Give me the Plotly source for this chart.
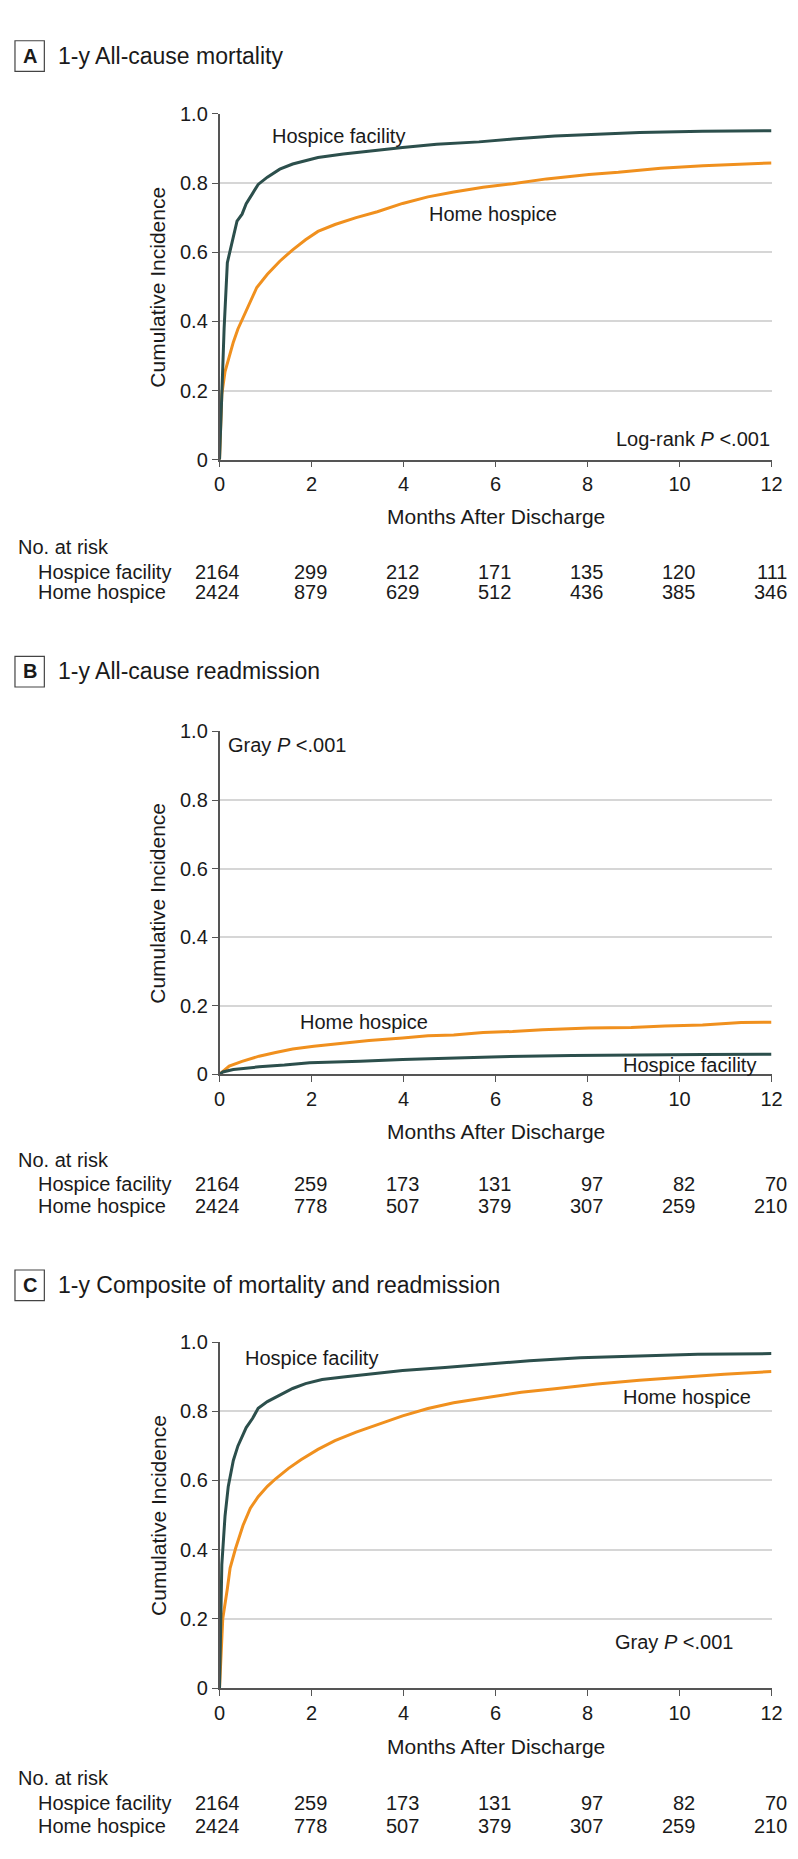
import plotly.graph_objects as go

W, H = 798, 1859

# ---------------- data ----------------
month_ticks = [0, 2, 4, 6, 8, 10, 12]
y_tickvals = [0, 0.2, 0.4, 0.6, 0.8, 1.0]
y_ticktext = ["0", "0.2", "0.4", "0.6", "0.8", "1.0"]

panel_letters = ["A", "B", "C"]
panel_titles = ["1-y All-cause mortality",
                "1-y All-cause readmission",
                "1-y Composite of mortality and readmission"]
group_names = ["Hospice facility", "Home hospice"]

# Panel A: all-cause mortality
a_fac_t = [0, 0.03, 0.07, 0.1, 0.17, 0.3, 0.38, 0.49, 0.58, 0.72, 0.84, 1.04, 1.31, 1.59,
           1.87, 2.14, 2.69, 3.25, 3.98, 4.72, 5.64, 6.37, 7.29, 8.21, 9.13, 10.5, 12]
a_fac_v = [0, 0.12, 0.25, 0.38, 0.57, 0.645, 0.69, 0.71, 0.74, 0.77, 0.796, 0.817, 0.84,
           0.855, 0.865, 0.874, 0.884, 0.893, 0.903, 0.912, 0.919, 0.927, 0.936, 0.941,
           0.946, 0.95, 0.951]
a_home_t = [0, 0.02, 0.05, 0.12, 0.21, 0.3, 0.4, 0.53, 0.67, 0.81, 1.04, 1.31, 1.59, 1.87,
            2.14, 2.51, 2.97, 3.43, 3.98, 4.53, 5.09, 5.73, 6.37, 7.11, 8.03, 8.67, 9.59,
            10.51, 12]
a_home_v = [0, 0.1, 0.19, 0.255, 0.3, 0.34, 0.378, 0.417, 0.455, 0.498, 0.536, 0.574,
            0.607, 0.636, 0.66, 0.68, 0.7, 0.717, 0.741, 0.76, 0.774, 0.788, 0.798, 0.812,
            0.825, 0.831, 0.843, 0.85, 0.858]

# Panel B: all-cause readmission
b_fac_t = [0, 0.07, 0.3, 0.86, 1.41, 1.96, 3.06, 3.98, 5.91, 7.66, 10.5, 12]
b_fac_v = [0, 0.007, 0.014, 0.022, 0.027, 0.034, 0.038, 0.043, 0.051, 0.055, 0.058, 0.059]
b_home_t = [0, 0.21, 0.49, 0.86, 1.22, 1.59, 2.05, 2.69, 3.25, 3.98, 4.53, 5.09, 5.73,
            6.37, 7.02, 8.03, 8.95, 9.68, 10.5, 11.34, 12]
b_home_v = [0, 0.024, 0.038, 0.053, 0.064, 0.074, 0.082, 0.091, 0.099, 0.106, 0.1125,
            0.115, 0.122, 0.125, 0.13, 0.135, 0.1365, 0.141, 0.144, 0.151, 0.152]

# Panel C: composite of mortality and readmission
c_fac_t = [0, 0.02, 0.05, 0.12, 0.19, 0.3, 0.4, 0.58, 0.72, 0.84, 1.04, 1.31, 1.59, 1.87,
           2.23, 2.69, 3.25, 3.98, 4.9, 5.82, 6.74, 7.84, 9.13, 10.4, 12]
c_fac_v = [0, 0.15, 0.357, 0.498, 0.583, 0.658, 0.70, 0.753, 0.78, 0.809, 0.828, 0.847,
           0.866, 0.88, 0.892, 0.899, 0.908, 0.918, 0.927, 0.937, 0.946, 0.955, 0.96,
           0.965, 0.967]
c_home_t = [0, 0.03, 0.07, 0.17, 0.23, 0.35, 0.51, 0.67, 0.84, 1.04, 1.22, 1.5, 1.77,
            2.14, 2.51, 2.97, 3.43, 3.98, 4.53, 5.09, 5.82, 6.56, 7.29, 8.21, 9.13, 10.05,
            10.97, 12]
c_home_v = [0, 0.085, 0.2, 0.287, 0.347, 0.404, 0.47, 0.52, 0.553, 0.583, 0.605, 0.635,
            0.66, 0.69, 0.715, 0.74, 0.762, 0.787, 0.808, 0.825, 0.84, 0.855, 0.865,
            0.879, 0.89, 0.899, 0.907, 0.915]

risk_a_fac = [2164, 299, 212, 171, 135, 120, 111]
risk_a_home = [2424, 879, 629, 512, 436, 385, 346]
risk_b_fac = [2164, 259, 173, 131, 97, 82, 70]
risk_b_home = [2424, 778, 507, 379, 307, 259, 210]
risk_c_fac = [2164, 259, 173, 131, 97, 82, 70]
risk_c_home = [2424, 778, 507, 379, 307, 259, 210]

# ---------------- style / layout ----------------
FONT = "Liberation Sans, Arial, sans-serif"
FS_TICK = 20
FS_TXT = 20
FS_AXT = 21
FS_TITLE = 23
TXT_C = "#1a1a1a"
C_FAC = "#2c4f4c"
C_HOME = "#f0901e"
AXIS_C = "#555555"
GRID_C = "#d6d6d6"

X0, X1 = 210, 774  # plot area in px
panels = [
    dict(top=96, bottom=446, title=37, xtitle=503, risk=534, rows=(560, 580)),
    dict(top=721, bottom=1068, title=660, xtitle=1126, risk=1155, rows=(1179, 1201)),
    dict(top=1339, bottom=1689, title=1281, xtitle=1748, risk=1780, rows=(1805, 1829)),
]
series = [
    (a_fac_t, a_fac_v, a_home_t, a_home_v, risk_a_fac, risk_a_home),
    (b_fac_t, b_fac_v, b_home_t, b_home_v, risk_b_fac, risk_b_home),
    (c_fac_t, c_fac_v, c_home_t, c_home_v, risk_c_fac, risk_c_home),
]
# in-plot labels (x, y, anchor) per panel
inplot = [
    [("Hospice facility", 1.1, 0.935, "left"), ("Home hospice", 4.5, 0.71, "left"),
     ("Log-rank <i>P</i> &lt;.001", 12, 0.06, "right")],
    [("Gray <i>P</i> &lt;.001", 0.15, 0.96, "left"), ("Home hospice", 1.7, 0.153, "left"),
     ("Hospice facility", 11.7, 0.026, "right")],
    [("Hospice facility", 0.5, 0.955, "left"), ("Home hospice", 11.6, 0.84, "right"),
     ("Gray <i>P</i> &lt;.001", 11.2, 0.134, "right")],
]


def py(px):
    return 1 - px / H


def px_x(px):
    return px / W


fig = go.Figure()
annotations = []
shapes = []
layout = {}

for i, (p, s) in enumerate(zip(panels, series)):
    n = "" if i == 0 else str(i + 1)
    xa, ya = "x" + n, "y" + n
    ft, fv, ht, hv, rf, rh = s
    fig.add_trace(go.Scatter(x=ht, y=hv, mode="lines", name=group_names[1],
                             line=dict(color=C_HOME, width=3), xaxis=xa, yaxis=ya,
                             showlegend=False))
    fig.add_trace(go.Scatter(x=ft, y=fv, mode="lines", name=group_names[0],
                             line=dict(color=C_FAC, width=3), xaxis=xa, yaxis=ya,
                             showlegend=False))
    layout["xaxis" + n] = dict(
        domain=[px_x(X0), px_x(X1)], range=[0, 12], anchor=ya,
        tickvals=month_ticks, ticks="outside", ticklen=6, tickcolor=AXIS_C,
        showline=True, linecolor=AXIS_C, linewidth=1.5, showgrid=False, zeroline=False,
        tickfont=dict(family=FONT, size=FS_TICK, color=TXT_C),
    )
    layout["yaxis" + n] = dict(
        domain=[py(p["bottom"]), py(p["top"])], range=[0, 1], anchor=xa,
        tickvals=y_tickvals, ticktext=y_ticktext, ticks="outside", ticklen=6,
        tickcolor=AXIS_C, showline=True, linecolor=AXIS_C, linewidth=1.5,
        showgrid=True, gridcolor=GRID_C, gridwidth=1.5, zeroline=False,
        tickfont=dict(family=FONT, size=FS_TICK, color=TXT_C),
    )
    # panel label box and title
    shapes.append(dict(type="rect", xref="paper", yref="paper",
                       x0=px_x(1), x1=px_x(31), y0=py(p["title"] + 16), y1=py(p["title"] - 15),
                       line=dict(color="#444", width=1.2), fillcolor="white"))
    annotations.append(dict(text="<b>%s</b>" % panel_letters[i], xref="paper", yref="paper",
                            x=px_x(16), y=py(p["title"]), xanchor="center", yanchor="middle",
                            showarrow=False, font=dict(family=FONT, size=FS_TXT, color=TXT_C)))
    annotations.append(dict(text=panel_titles[i], xref="paper", yref="paper",
                            x=px_x(43), y=py(p["title"]), xanchor="left", yanchor="middle",
                            showarrow=False, font=dict(family=FONT, size=FS_TITLE, color=TXT_C)))
    # axis titles
    annotations.append(dict(text="Cumulative Incidence", xref="paper", yref="paper",
                            x=px_x(147), y=py((p["top"] + p["bottom"]) / 2), textangle=-90,
                            xanchor="center", yanchor="middle", showarrow=False,
                            font=dict(family=FONT, size=FS_AXT, color=TXT_C)))
    annotations.append(dict(text="Months After Discharge", xref="paper", yref="paper",
                            x=px_x((X0 + X1) / 2), y=py(p["xtitle"]), xanchor="center",
                            yanchor="middle", showarrow=False,
                            font=dict(family=FONT, size=FS_AXT, color=TXT_C)))
    # in-plot labels
    for txt, x, y, anc in inplot[i]:
        annotations.append(dict(text=txt, xref=xa, yref=ya, x=x, y=y, xanchor=anc,
                                yanchor="middle", showarrow=False,
                                font=dict(family=FONT, size=FS_TXT, color=TXT_C)))
    # number at risk table
    annotations.append(dict(text="No. at risk", xref="paper", yref="paper", x=px_x(2),
                            y=py(p["risk"]), xanchor="left", yanchor="middle",
                            showarrow=False, font=dict(family=FONT, size=FS_TXT, color=TXT_C)))
    for name, row_y, vals in zip(group_names, p["rows"], (rf, rh)):
        annotations.append(dict(text=name, xref="paper", yref="paper", x=px_x(22),
                                y=py(row_y), xanchor="left", yanchor="middle",
                                showarrow=False, font=dict(family=FONT, size=FS_TXT, color=TXT_C)))
        for m, v in zip(month_ticks, vals):
            shift = 22 if v >= 1000 else 17
            annotations.append(dict(text=str(v), xref=xa, yref="paper", x=m, y=py(row_y),
                                    xanchor="right", yanchor="middle", xshift=shift,
                                    showarrow=False,
                                    font=dict(family=FONT, size=FS_TXT, color=TXT_C)))

fig.update_layout(
    width=W, height=H, margin=dict(l=0, r=0, t=0, b=0),
    paper_bgcolor="white", plot_bgcolor="white",
    annotations=annotations, shapes=shapes, showlegend=False,
    **layout,
)
fig.write_html("out.html")
